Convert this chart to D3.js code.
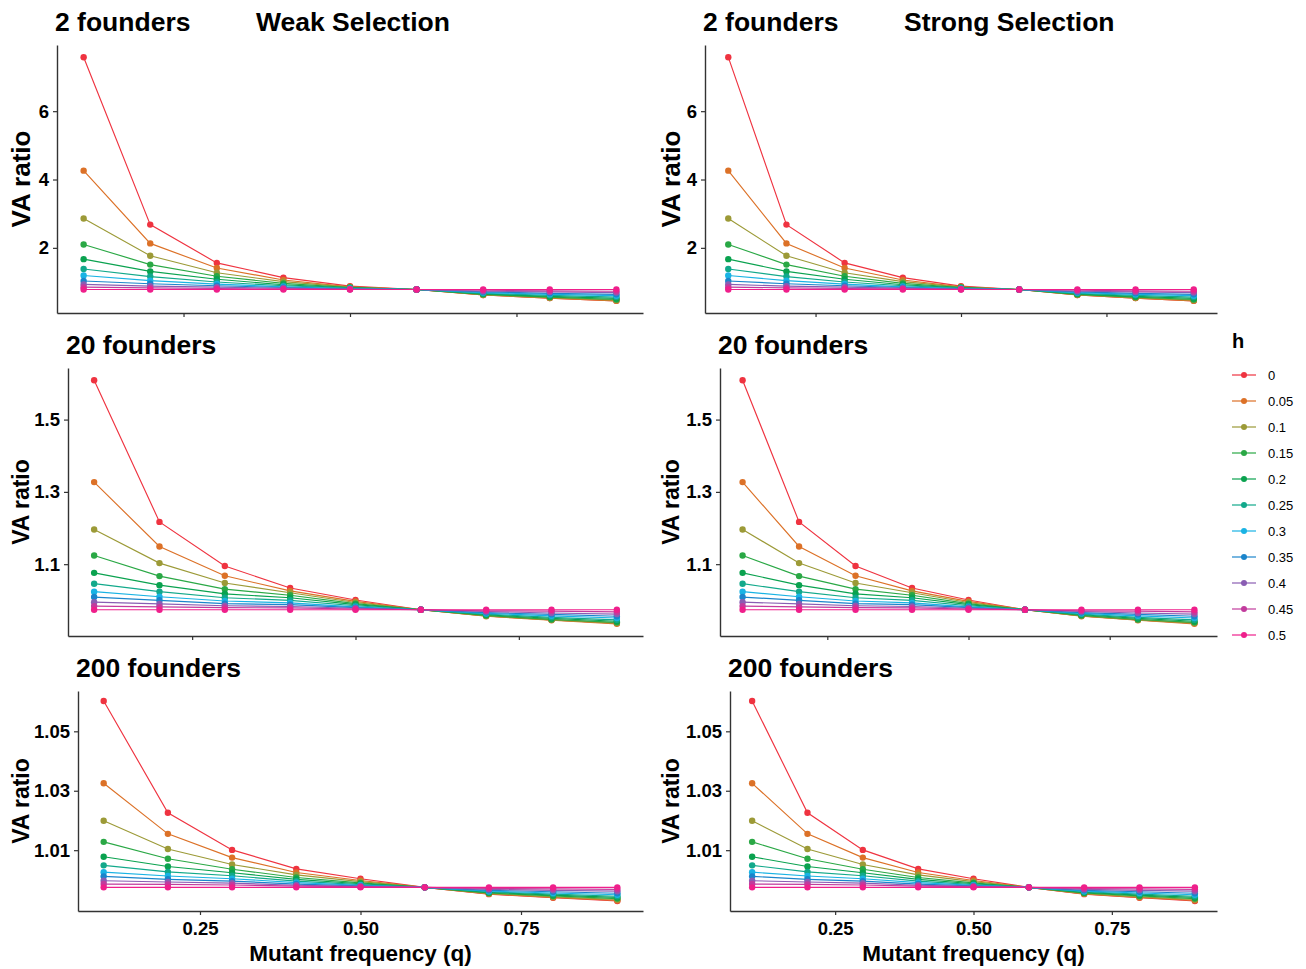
<!DOCTYPE html>
<html>
<head>
<meta charset="utf-8">
<script src="https://cdn.jsdelivr.net/npm/d3@7"></script>
<style>
  html, body { margin: 0; padding: 0; background: #fff; }
  svg { display: block; font-family: "Liberation Sans", Arial, sans-serif; }
</style>
</head>
<body>
<svg id="chart" width="1306" height="969"></svg>
<script>
// Mutant frequency values on the x axis
const q = [0.1, 0.2, 0.3, 0.4, 0.5, 0.6, 0.7, 0.8, 0.9];

// Dominance levels (legend "h")
const hLevels = ["0", "0.05", "0.1", "0.15", "0.2", "0.25", "0.3", "0.35", "0.4", "0.45", "0.5"];

// VA ratio, 2 founders: one row per h level, one value per q
const founders2 = [
  [7.58, 2.68, 1.56, 1.13, 0.88, 0.78, 0.62, 0.53, 0.45],
  [4.26, 2.13, 1.41, 1.06, 0.86, 0.78, 0.62, 0.53, 0.45],
  [2.86, 1.77, 1.27, 1.01, 0.85, 0.78, 0.63, 0.54, 0.47],
  [2.10, 1.51, 1.17, 0.96, 0.84, 0.78, 0.64, 0.56, 0.49],
  [1.67, 1.31, 1.08, 0.92, 0.83, 0.78, 0.65, 0.58, 0.52],
  [1.38, 1.16, 1.00, 0.89, 0.82, 0.78, 0.67, 0.61, 0.56],
  [1.19, 1.04, 0.94, 0.86, 0.81, 0.78, 0.69, 0.64, 0.60],
  [1.03, 0.95, 0.89, 0.84, 0.80, 0.78, 0.71, 0.67, 0.64],
  [0.93, 0.88, 0.85, 0.82, 0.79, 0.78, 0.73, 0.71, 0.69],
  [0.85, 0.83, 0.81, 0.80, 0.79, 0.78, 0.76, 0.74, 0.73],
  [0.78, 0.78, 0.78, 0.78, 0.78, 0.78, 0.78, 0.78, 0.78]
];

// VA ratio, 20 founders
const founders20 = [
  [1.609, 1.217, 1.095, 1.034, 1.001, 0.974, 0.957, 0.946, 0.937],
  [1.327, 1.149, 1.068, 1.026, 0.997, 0.974, 0.956, 0.945, 0.935],
  [1.196, 1.103, 1.048, 1.021, 0.994, 0.974, 0.957, 0.946, 0.937],
  [1.124, 1.067, 1.031, 1.014, 0.991, 0.974, 0.958, 0.947, 0.939],
  [1.076, 1.042, 1.018, 1.007, 0.988, 0.974, 0.960, 0.950, 0.942],
  [1.046, 1.024, 1.007, 1.000, 0.985, 0.974, 0.962, 0.953, 0.946],
  [1.024, 1.010, 0.998, 0.993, 0.982, 0.974, 0.964, 0.957, 0.951],
  [1.009, 1.000, 0.991, 0.988, 0.980, 0.974, 0.966, 0.961, 0.956],
  [0.995, 0.990, 0.985, 0.983, 0.978, 0.974, 0.969, 0.965, 0.962],
  [0.984, 0.982, 0.980, 0.979, 0.976, 0.974, 0.971, 0.970, 0.968],
  [0.974, 0.974, 0.974, 0.974, 0.974, 0.974, 0.974, 0.974, 0.974]
];

// VA ratio, 200 founders
const founders200 = [
  [1.0602, 1.0226, 1.0101, 1.0037, 1.0004, 0.9975, 0.9952, 0.9940, 0.9929],
  [1.0325, 1.0155, 1.0075, 1.0025, 0.9998, 0.9975, 0.9953, 0.9941, 0.9931],
  [1.0199, 1.0104, 1.0052, 1.0017, 0.9994, 0.9975, 0.9954, 0.9943, 0.9934],
  [1.0128, 1.0071, 1.0036, 1.0008, 0.9990, 0.9975, 0.9956, 0.9946, 0.9937],
  [1.0078, 1.0045, 1.0024, 1.0002, 0.9987, 0.9975, 0.9958, 0.9949, 0.9941],
  [1.0049, 1.0027, 1.0014, 0.9996, 0.9984, 0.9975, 0.9960, 0.9952, 0.9945],
  [1.0026, 1.0013, 1.0004, 0.9991, 0.9982, 0.9975, 0.9962, 0.9956, 0.9950],
  [1.0012, 1.0002, 0.9996, 0.9986, 0.9980, 0.9975, 0.9965, 0.9960, 0.9955],
  [0.9997, 0.9993, 0.9989, 0.9982, 0.9978, 0.9975, 0.9968, 0.9965, 0.9962],
  [0.9986, 0.9985, 0.9983, 0.9979, 0.9977, 0.9975, 0.9971, 0.9970, 0.9968],
  [0.9975, 0.9975, 0.9975, 0.9975, 0.9975, 0.9975, 0.9975, 0.9975, 0.9975]
];

// Tick values
const xTicks = [0.25, 0.50, 0.75];
const xTickLabels = ["0.25", "0.50", "0.75"];
const yTicks2 = [2, 4, 6];
const yTicks20 = [1.1, 1.3, 1.5];
const yTicks200 = [1.01, 1.03, 1.05];

// Row and column titles
const rowTitles = ["2 founders", "20 founders", "200 founders"];
const colTitles = ["Weak Selection", "Strong Selection"];

// Colours per h level
const palette = ["#ef3340", "#dc7127", "#9c9a37", "#2aa845", "#0aa24f", "#12a98b",
                 "#19b3e4", "#1b85cb", "#8a5db3", "#c23b9d", "#ef1f8b"];

const rows = [
  { data: founders2,   ticks: yTicks2,   fmt: d => d3.format("d")(d),   top: 45,  bottom: 313, showX: false },
  { data: founders20,  ticks: yTicks20,  fmt: d => d3.format(".1f")(d), top: 368, bottom: 636, showX: false },
  { data: founders200, ticks: yTicks200, fmt: d => d3.format(".2f")(d), top: 691, bottom: 911, showX: true }
];
const cols = [
  { lefts: [57, 68, 78],    right: 643,  yTitleX: 21 },
  { lefts: [705, 720, 730], right: 1217, yTitleX: 671 }
];

const svg = d3.select("#chart");
const axisColor = "#333333";

cols.forEach((col, ci) => {
  rows.forEach((row, ri) => {
    const left = col.lefts[ri];
    const g = svg.append("g");

    // 5% expansion on both axes
    const xExt = d3.extent(q);
    const xPad = (xExt[1] - xExt[0]) * 0.05;
    const x = d3.scaleLinear().domain([xExt[0] - xPad, xExt[1] + xPad]).range([left, col.right]);
    const all = row.data.flat();
    const yExt = d3.extent(all);
    const yPad = (yExt[1] - yExt[0]) * 0.05;
    const y = d3.scaleLinear().domain([yExt[0] - yPad, yExt[1] + yPad]).range([row.bottom, row.top]);

    // axes
    const xAxis = d3.axisBottom(x).tickValues(xTicks).tickSize(4).tickSizeOuter(0)
      .tickFormat((d, i) => row.showX ? xTickLabels[i] : "");
    const gx = g.append("g").attr("transform", `translate(0,${row.bottom})`).call(xAxis);
    const yAxis = d3.axisLeft(y).tickValues(row.ticks).tickSize(4).tickSizeOuter(0).tickFormat(row.fmt);
    const gy = g.append("g").attr("transform", `translate(${left},0)`).call(yAxis);

    [gx, gy].forEach(ax => {
      ax.select(".domain").attr("stroke", axisColor).attr("stroke-width", 1.4);
      ax.selectAll(".tick line").attr("stroke", axisColor).attr("stroke-width", 1.2);
      ax.selectAll(".tick text").attr("fill", "#000").attr("font-size", 18.5)
        .attr("font-weight", "bold").attr("font-family", "Liberation Sans, Arial, sans-serif");
    });
    gx.selectAll(".tick text").attr("dy", "0.9em");
    gy.selectAll(".tick text").attr("dx", "-1px");

    // lines first, then points (pink h=0.5 ends up on top)
    const line = d3.line().x((d, i) => x(q[i])).y(d => y(d));
    row.data.forEach((series, hi) => {
      g.append("path").attr("d", line(series)).attr("fill", "none")
        .attr("stroke", palette[hi]).attr("stroke-width", 1.15);
    });
    row.data.forEach((series, hi) => {
      g.selectAll(null).data(series).enter().append("circle")
        .attr("cx", (d, i) => x(q[i])).attr("cy", d => y(d)).attr("r", 3.2)
        .attr("fill", palette[hi]);
    });

    // panel title
    g.append("text").attr("x", left - 2).attr("y", row.top - 14)
      .attr("font-size", 26.5).attr("font-weight", "bold").text(rowTitles[ri]);
    if (ri === 0) {
      g.append("text").attr("x", left - 2 + 201).attr("y", row.top - 14)
        .attr("font-size", 26.5).attr("font-weight", "bold").text(colTitles[ci]);
    }

    // y axis title
    const cy = (row.top + row.bottom) / 2;
    g.append("text").attr("transform", `translate(${col.yTitleX + (ri === 0 ? 9 : 8)},${cy}) rotate(-90)`)
      .attr("text-anchor", "middle").attr("font-size", ri === 0 ? 26 : 23).attr("font-weight", "bold")
      .text("VA ratio");

    // x axis title on bottom row
    if (row.showX) {
      g.append("text").attr("x", (left + col.right) / 2).attr("y", 961)
        .attr("text-anchor", "middle").attr("font-size", 22.5).attr("font-weight", "bold")
        .text("Mutant frequency (q)");
    }
  });
});

// legend
const legend = svg.append("g").attr("transform", "translate(1232,0)");
legend.append("text").attr("x", 0).attr("y", 348).attr("font-size", 20).attr("font-weight", "bold").text("h");
hLevels.forEach((lab, i) => {
  const yy = 375 + i * 26;
  legend.append("line").attr("x1", 0).attr("x2", 24).attr("y1", yy).attr("y2", yy)
    .attr("stroke", palette[i]).attr("stroke-width", 1.2);
  legend.append("circle").attr("cx", 12).attr("cy", yy).attr("r", 3).attr("fill", palette[i]);
  legend.append("text").attr("x", 36).attr("y", yy + 5).attr("font-size", 13).text(lab);
});
</script>
</body>
</html>
